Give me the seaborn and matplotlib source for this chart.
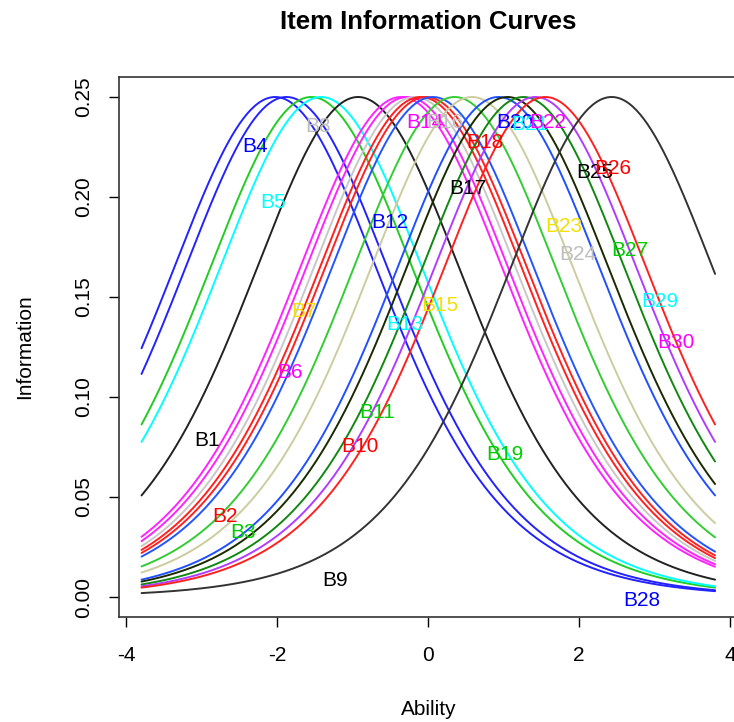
import numpy as np
import pandas as pd
import matplotlib
matplotlib.use("Agg")
import matplotlib.pyplot as plt
import seaborn as sns

# Item difficulties of the visible curves, left to right
difficulty = [-2.03, -1.88, -1.55, -1.42, -0.93, -0.36, -0.28, -0.18, -0.10, -0.03,
              0.06, 0.35, 0.58, 0.93, 1.05, 1.26, 1.42, 1.55, 2.43]
curve_colors = ["#2222FF", "#2222FF", "#22CC22", "#00FFFF", "#222222", "#FF22FF",
                "#FF22FF", "#C8C8C8", "#FF2020", "#FF2020", "#2255FF", "#33CC33",
                "#CCCCA0", "#1F4FFF", "#1A2A00", "#118811", "#B03CFF", "#FF2020",
                "#333333"]

# Item labels and their positions (Ability, Information)
item_labels = ["B%d" % i for i in range(1, 31)]
label_x = [-2.93, -2.69, -2.46, -2.30, -2.06, -1.83, -1.64, -1.46, -1.24, -0.91,
           -0.68, -0.51, -0.31, -0.05, 0.15, 0.22, 0.52, 0.75, 1.01, 1.15,
           1.34, 1.58, 1.80, 1.98, 2.20, 2.44, 2.67, 2.83, 3.07, 3.28]
label_y = [0.0785, 0.0405, 0.032, 0.225, 0.1975, 0.112, 0.143, 0.235, 0.0085, 0.075,
           0.0925, 0.1875, 0.136, 0.2375, 0.146, 0.2375, 0.204, 0.227, 0.071, 0.2375,
           0.2365, 0.2375, 0.1855, 0.1715, 0.212, 0.2145, 0.1735, -0.0015, 0.148, 0.1275]
r_palette = ["#000000", "#FF0000", "#00CD00", "#0000FF", "#00FFFF", "#FF00FF",
             "#F2E000", "#BEBEBE"]

x_ticks = [-4, -2, 0, 2, 4]
y_ticks = [0.00, 0.05, 0.10, 0.15, 0.20, 0.25]

theta = np.linspace(-3.8, 3.8, 300)
rows = []
for i, b in enumerate(difficulty):
    p = 1.0 / (1.0 + np.exp(-(theta - b)))
    rows.append(pd.DataFrame({"Ability": theta, "Information": p * (1 - p),
                              "item": "c%02d" % i}))
df = pd.concat(rows, ignore_index=True)

sns.set_theme(style="ticks")
plt.rcParams["font.family"] = ["Liberation Sans", "DejaVu Sans"]
plt.rcParams["text.color"] = "black"
plt.rcParams["axes.labelcolor"] = "black"

fig = plt.figure(figsize=(7.34, 7.22), dpi=100)
ax = fig.add_axes([118.6 / 734, 105 / 722, 619.4 / 734, 540 / 722])

pal = {"c%02d" % i: c for i, c in enumerate(curve_colors)}
sns.lineplot(data=df, x="Ability", y="Information", hue="item", palette=pal,
             linewidth=1.4, legend=False, ax=ax, sort=False)

for lab, lx, ly, k in zip(item_labels, label_x, label_y, range(30)):
    ax.text(lx, ly, lab, color=r_palette[k % 8], fontsize=15,
            ha="center", va="center")

ax.set_xlim(-4.104, 4.104)
ax.set_ylim(-0.01, 0.26)
ax.set_xticks(x_ticks)
ax.set_xticklabels([str(t) for t in x_ticks])
ax.set_yticks(y_ticks)
ax.set_yticklabels(["%.2f" % t for t in y_ticks], rotation=90, va="center")
ax.tick_params(axis="both", direction="out", length=7, width=1, colors="black",
               labelsize=15)
ax.tick_params(axis="x", pad=14)
ax.tick_params(axis="y", pad=11)
for s in ax.spines.values():
    s.set_color("#333333")
    s.set_linewidth(1.2)

ax.set_xlabel("Ability", fontsize=15, color="black")
ax.set_ylabel("Information", fontsize=15, color="black")
ax.xaxis.set_label_coords(0.5, -0.172)
ax.xaxis.label.set_va("center")
ax.yaxis.set_label_coords(-0.151, 0.5)
ax.yaxis.label.set_va("center")

fig.text(428 / 734, 1 - 22 / 722, "Item Information Curves", fontsize=18.5,
         fontweight="bold", ha="center", va="center", color="black")

fig.savefig("out.png", dpi=100)
